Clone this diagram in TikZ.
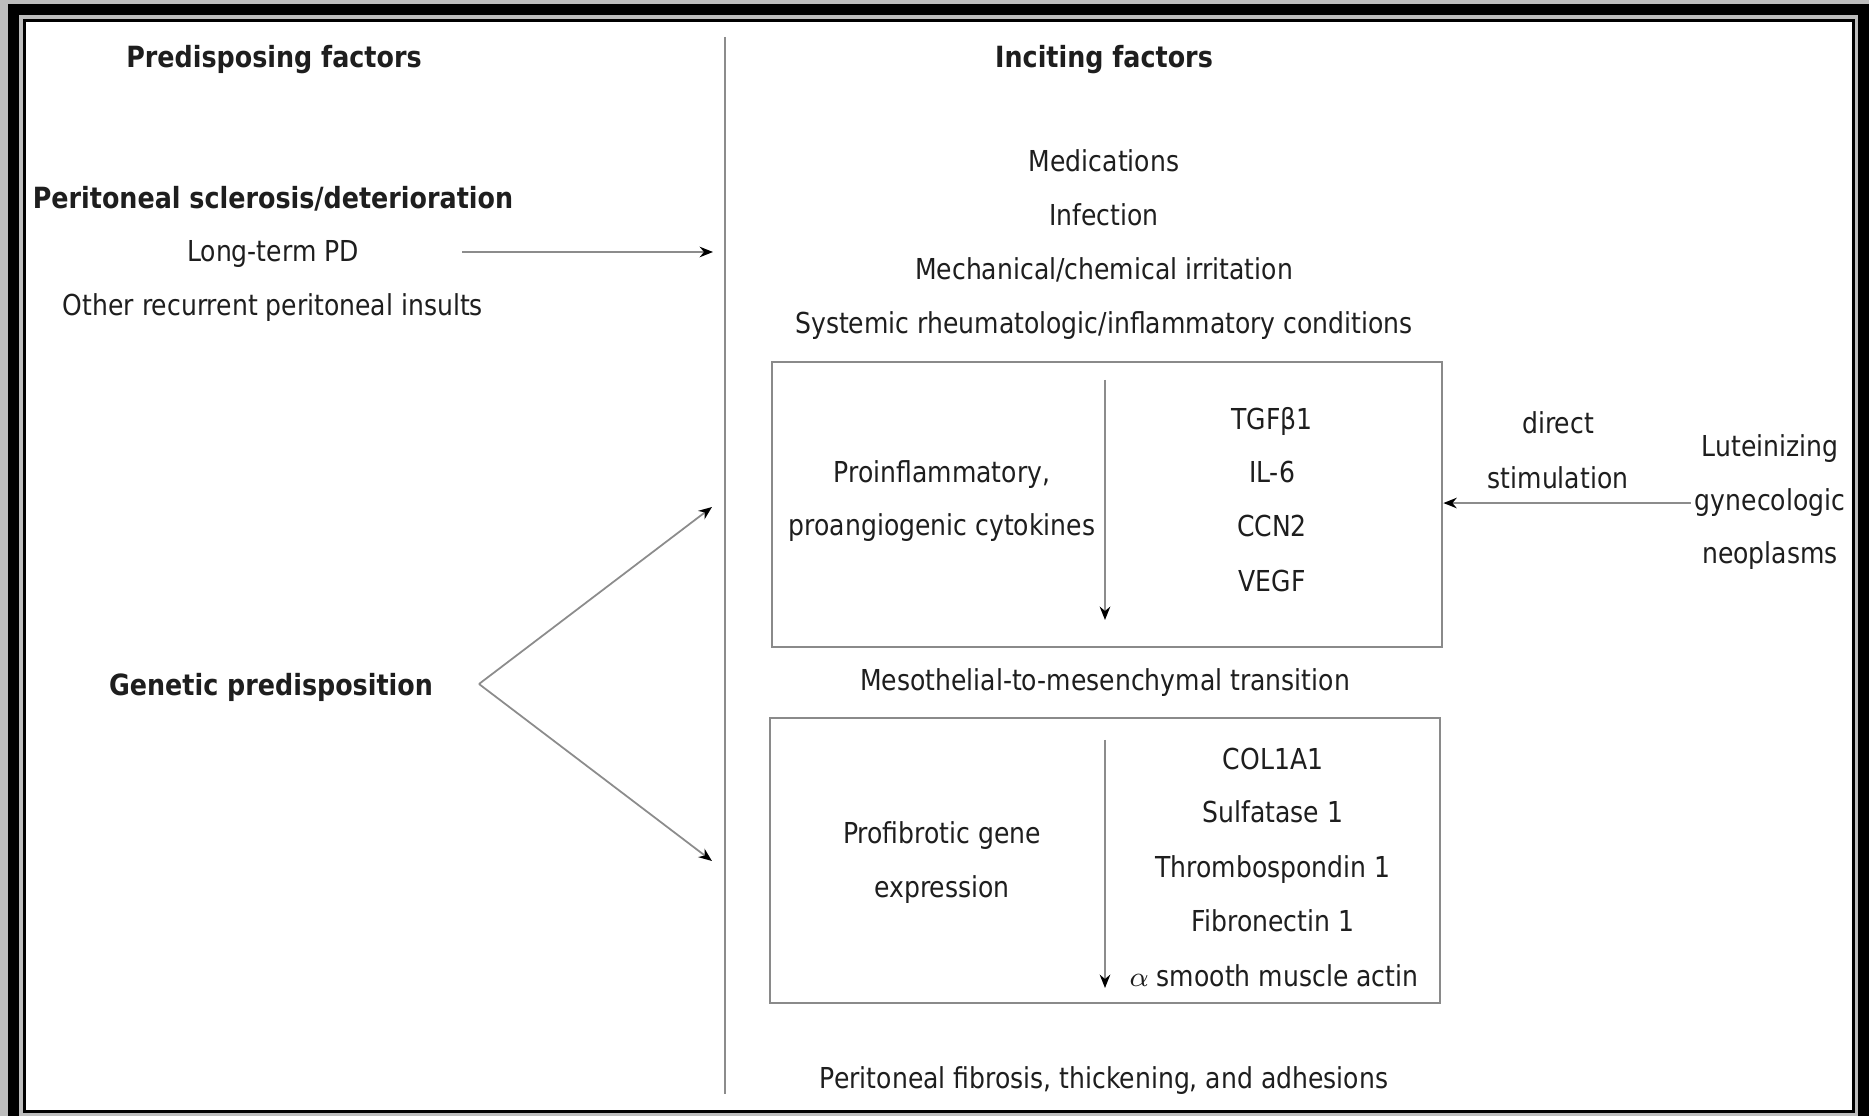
\documentclass[tikz,border=0pt]{standalone}
\usepackage{fontspec}
\setmainfont{DejaVu Sans}[FakeStretch=0.87]
\usetikzlibrary{arrows.meta}

\definecolor{ink}{HTML}{1E1E1E}
\definecolor{linegray}{HTML}{8C8C8C}
\definecolor{boxgray}{HTML}{8A8A8A}
\definecolor{edgegray}{HTML}{BDBDBD}

\tikzset{
  txt/.style={anchor=base, inner sep=1pt, text=ink, font=\fontsize{8.2}{10}\selectfont},
  head/.style={txt, font=\fontsize{8.3}{10}\selectfont\bfseries},
  conn/.style={draw=linegray, line width=0.5pt, -{Stealth[length=3.8pt,width=3pt,color=black]}},
  panel/.style={draw=boxgray, line width=0.7pt, inner sep=0pt, minimum width=6.7cm, minimum height=2.85cm},
}

\begin{document}
\begin{tikzpicture}[x=0.01cm, y=-0.01cm]
    % Marco exterior
    \useasboundingbox (0,0) rectangle (1869,1116);
    \fill[edgegray] (0,0) rectangle (1869,1116);
    \fill[black] (8,4) rectangle (1869,1116);
    \fill[edgegray] (19,15) rectangle (1858,1116);
    \fill[black] (23,19) rectangle (1855,1113);
    \fill[white] (26,22) rectangle (1852,1110);

    % Linea divisoria
    \draw[linegray, line width=0.6pt] (725,37) -- (725,1094);

    % Encabezados
    \node[head] (pre) at (274,68) {Predisposing factors};
    \node[head] (inc) at (1104,68) {Inciting factors};

    % Factores predisponentes
    \node[head] (scl) at (273,209) {Peritoneal sclerosis/deterioration};
    \node[txt] (ltpd) at (273,262) {Long-term PD};
    \node[txt] (oth) at (273,316) {Other recurrent peritoneal insults};
    \node[head] (gen) at (271,696) {Genetic predisposition};

    % Factores desencadenantes
    \node[txt] (med) at (1104,172) {Medications};
    \node[txt] (inf) at (1104,226) {Infection};
    \node[txt] (mec) at (1104,280) {Mechanical/chemical irritation};
    \node[txt] (sys) at (1104,334) {Systemic rheumatologic/inflammatory conditions};

    % Primera caja: citoquinas
    \node[panel] (box1) at (1107,504.5) {};
    \node[txt] (pro1) at (942,483) {Proinflammatory,};
    \node[txt] (pro2) at (942,536) {proangiogenic cytokines};
    \node[txt] (tgf) at (1272,430) {TGFβ1};
    \node[txt] (il6) at (1272,483) {IL-6};
    \node[txt] (ccn) at (1272,537) {CCN2};
    \node[txt] (vegf) at (1272,592) {VEGF};

    % Estimulacion directa
    \node[txt] (dir) at (1558,434) {direct};
    \node[txt] (stim) at (1558,489) {stimulation};
    \node[txt] (lut) at (1770,457) {Luteinizing};
    \node[txt] (gyn) at (1770,511) {gynecologic};
    \node[txt] (neo) at (1770,564) {neoplasms};

    \node[txt] (emt) at (1105,691) {Mesothelial-to-mesenchymal transition};

    % Segunda caja: genes profibroticos
    \node[panel] (box2) at (1105,860.5) {};
    \node[txt] (fib1) at (942,844) {Profibrotic gene};
    \node[txt] (fib2) at (942,898) {expression};
    \node[txt] (col) at (1273,770) {COL1A1};
    \node[txt] (sul) at (1273,823) {Sulfatase 1};
    \node[txt] (thr) at (1273,878) {Thrombospondin 1};
    \node[txt] (fbn) at (1273,932) {Fibronectin 1};
    \node[txt] (sma) at (1274,987) {$\alpha$ smooth muscle actin};

    \node[txt] (res) at (1104,1089) {Peritoneal fibrosis, thickening, and adhesions};

    % Puntos libres de las flechas
    \coordinate (ltA) at (462,252);
    \coordinate (ltB) at (713,252);
    \coordinate (fork) at (479,684);
    \coordinate (upE) at (712,507);
    \coordinate (dnE) at (712,861);
    \coordinate (in1) at (1105,380);
    \coordinate (out1) at (1105,620);
    \coordinate (in2) at (1105,740);
    \coordinate (out2) at (1105,988);

    % Flechas
    \draw[conn] (ltA) -- (ltB);
    \draw[conn] (fork) -- (upE);
    \draw[conn] (fork) -- (dnE);
    \draw[conn] (in1) -- (out1);
    \draw[conn] (in2) -- (out2);
    \draw[conn] (gyn.west) -- (gyn.west -| box1.east);
\end{tikzpicture}
\end{document}
